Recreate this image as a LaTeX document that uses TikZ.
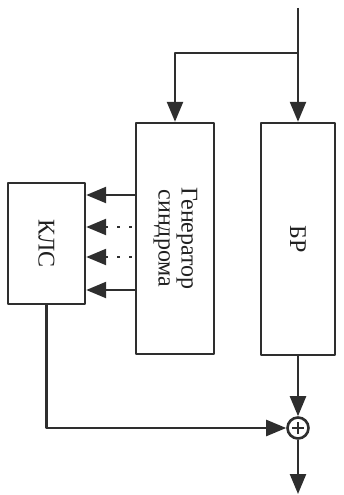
\documentclass[tikz,border=0pt]{standalone}
\usepackage{fontspec}
\setmainfont{Liberation Serif}
\usepackage{graphicx}
\usetikzlibrary{arrows.meta,positioning}
\begin{document}
\begin{tikzpicture}[x=1pt,y=1pt,line join=round,>={Triangle[length=20pt,width=16pt]},font=\fontsize{24}{25}\selectfont]
            \definecolor{ink}{rgb}{0.18, 0.18, 0.18}
            \tikzset{
                blok/.style={draw=ink,line width=2.4pt,inner sep=0pt,text=ink!70!black},
                wire/.style={draw=ink,line width=2.4pt,fill=none},
                dotline/.style={dash pattern=on 3pt off 9pt,dash phase=9pt},
                summa/.style={circle,draw=ink,line width=2.6pt,minimum size=21pt,inner sep=0pt,
                    path picture={
                        \draw[ink,line width=2.2pt] ([xshift=-6pt]path picture bounding box.center)--([xshift=6pt]path picture bounding box.center)
                        ([yshift=-6pt]path picture bounding box.center)--([yshift=6pt]path picture bounding box.center);
                }}
            }
            \useasboundingbox (0,0) rectangle (343,-495);
            %===============================
            \node[blok,minimum width=78pt,minimum height=231pt] (gen) at (175,-238.5)
                {\rotatebox[origin=c]{-90}{\begin{tabular}{@{}c@{}}Генератор\\[-2pt]синдрома\end{tabular}}};
            \node[blok,minimum width=74pt,minimum height=232pt] (br) at (298,-239)
                {\rotatebox[origin=c]{-90}{БР}};
            \node[blok,minimum width=77pt,minimum height=121pt] (kls) at (46.5,-243.5)
                {\rotatebox[origin=c]{-90}{КЛС}};
            \node[summa] (sum) at (298,-428) {};
            \coordinate (in) at (298,-8);
            \coordinate (split) at (298,-53);
            \coordinate (out) at (298,-494);
            %===============================
            \draw[wire,->] (in) -- (br.north);
            \draw[wire,->] (split) -| (gen.north);
            \foreach \i/\y/\sty in {1/195/solid,2/227/dotline,3/257/dotline,4/290/solid}{
                \coordinate (r\i) at (0,-\y);
                \draw[wire,->,\sty] (gen.west |- r\i) -- (kls.east |- r\i);
            }
            \draw[wire,->] (kls.south) |- (sum.west);
            \draw[wire,->] (br.south) -- (sum.north);
            \draw[wire,->] (sum.south) -- (out);
        \end{tikzpicture}
\end{document}
